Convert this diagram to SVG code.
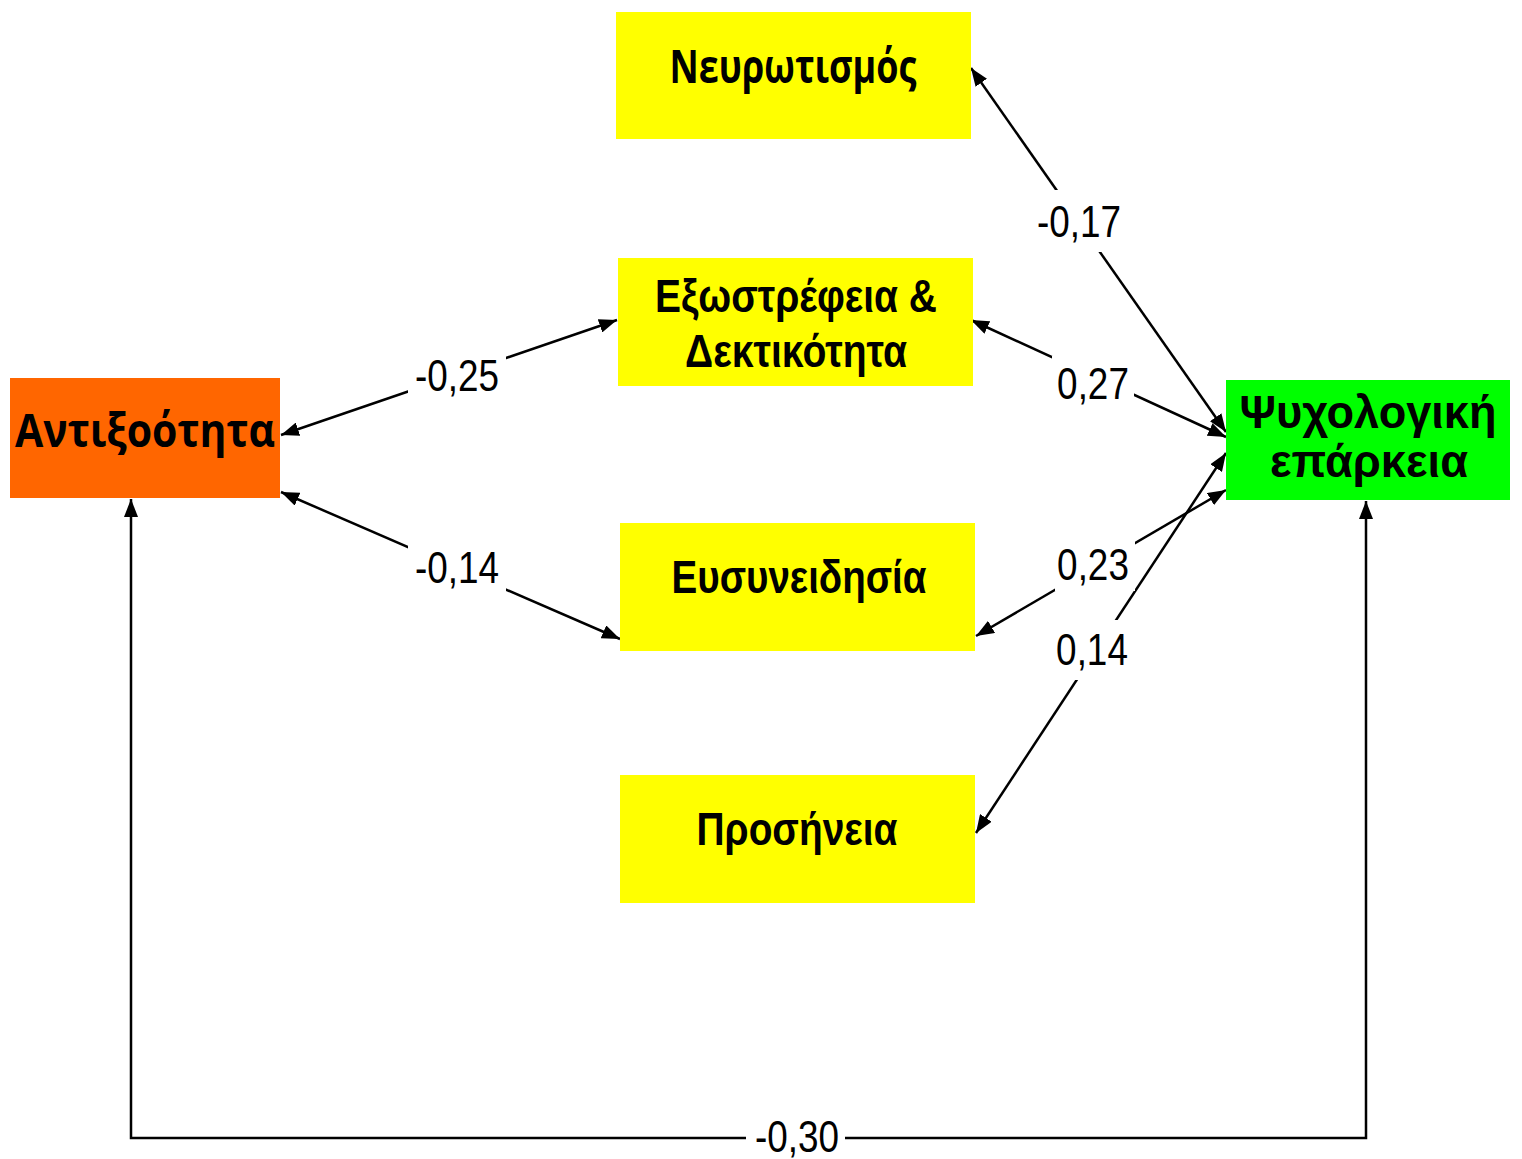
<svg xmlns="http://www.w3.org/2000/svg" width="1522" height="1159" viewBox="0 0 1522 1159">
<style>
.ln{stroke:#000;stroke-width:2.5;fill:none;marker-start:url(#ah);marker-end:url(#ah)}
.gap{fill:#fff}
.lbl{font-family:"Liberation Sans",Arial,sans-serif;font-size:45px;fill:#000;text-anchor:middle}
.nt{font-family:"Liberation Sans",Arial,sans-serif;font-weight:bold;font-size:46px;fill:#000;text-anchor:middle}
.ot{font-family:"Open Sans","Noto Sans",sans-serif;font-weight:bold;font-size:46px;fill:#000;text-anchor:middle}
.y{fill:#ffff00}
</style>
<defs>
<marker id="ah" viewBox="0 0 18 14" refX="18" refY="7" markerWidth="18" markerHeight="14" markerUnits="userSpaceOnUse" orient="auto-start-reverse">
<path d="M0,0 L18,7 L0,14 Z" fill="#000"/>
</marker>
</defs>
<rect width="1522" height="1159" fill="#fff"/>
<g id="connectors">
<line class="ln" x1="971" y1="68" x2="1226" y2="432"/>
<line class="ln" x1="971" y1="320" x2="1226" y2="437"/>
<line class="ln" x1="976" y1="636" x2="1226" y2="490"/>
<line class="ln" x1="976" y1="833" x2="1226" y2="453"/>
<line class="ln" x1="281" y1="435" x2="617" y2="320"/>
<line class="ln" x1="281" y1="492" x2="620" y2="639"/>
<polyline class="ln" points="131,499 131,1138 1366,1138 1366,501"/>
<rect class="gap" x="1036" y="190" width="88" height="62"/>
<rect class="gap" x="1052" y="356" width="82" height="46"/>
<rect class="gap" x="408" y="352" width="98" height="45"/>
<rect class="gap" x="408" y="543" width="98" height="49"/>
<rect class="gap" x="1055" y="541" width="80" height="50"/>
<rect class="gap" x="1052" y="620" width="80" height="60"/>
<rect class="gap" x="746" y="1120" width="99" height="39"/>
<text class="lbl" transform="translate(1079 237) scale(0.82 1)">-0,17</text>
<text class="lbl" transform="translate(1093 399) scale(0.82 1)">0,27</text>
<text class="lbl" transform="translate(457 391) scale(0.82 1)">-0,25</text>
<text class="lbl" transform="translate(457 583) scale(0.82 1)">-0,14</text>
<text class="lbl" transform="translate(1093 580) scale(0.82 1)">0,23</text>
<text class="lbl" transform="translate(1092 665) scale(0.82 1)">0,14</text>
<text class="lbl" transform="translate(797 1152) scale(0.82 1)">-0,30</text>
</g>
<g id="neurotismos">
<rect class="y" x="616" y="12" width="355" height="127"/>
<text class="ot" x="793" y="83" textLength="247" lengthAdjust="spacingAndGlyphs">Νευρωτισμός</text>
</g>
<g id="exostrefeia">
<rect class="y" x="618" y="258" width="355" height="128"/>
<text class="nt" x="796" y="312" textLength="282" lengthAdjust="spacingAndGlyphs">Εξωστρέφεια &amp;</text>
<text class="nt" x="796" y="367" textLength="222" lengthAdjust="spacingAndGlyphs">Δεκτικότητα</text>
</g>
<g id="eusyneidisia">
<rect class="y" x="620" y="523" width="355" height="128"/>
<text class="nt" x="799" y="593" textLength="255" lengthAdjust="spacingAndGlyphs">Ευσυνειδησία</text>
</g>
<g id="prosineia">
<rect class="y" x="620" y="775" width="355" height="128"/>
<text class="nt" x="797" y="845" textLength="201" lengthAdjust="spacingAndGlyphs">Προσήνεια</text>
</g>
<g id="antixootita">
<rect x="10" y="378" width="270" height="120" fill="#ff6600"/>
<text class="ot" x="145" y="447" textLength="260" lengthAdjust="spacingAndGlyphs">Αντιξοότητα</text>
</g>
<g id="psychologiki">
<rect x="1226" y="380" width="284" height="120" fill="#00ff00"/>
<text class="nt" x="1368" y="428" textLength="257" lengthAdjust="spacingAndGlyphs">Ψυχολογική</text>
<text class="nt" x="1369" y="477" textLength="198" lengthAdjust="spacingAndGlyphs">επάρκεια</text>
</g>
</svg>
